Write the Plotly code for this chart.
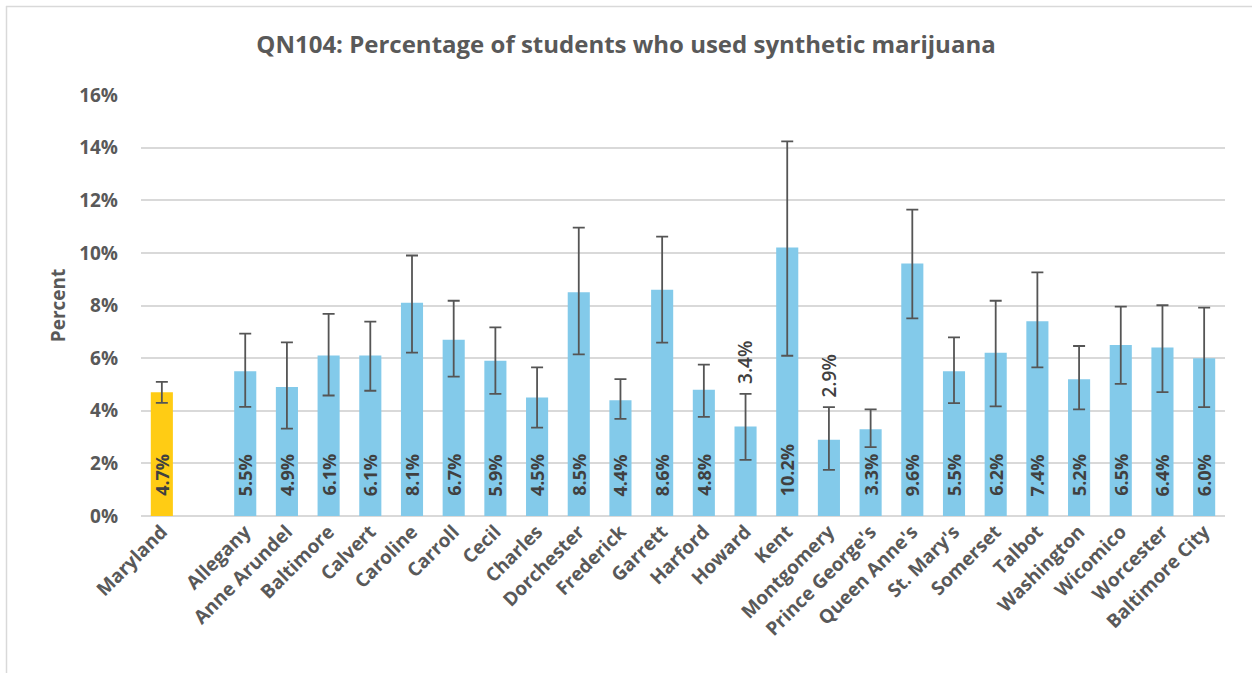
import plotly.graph_objects as go

categories = ["Maryland", " ", "Allegany", "Anne Arundel", "Baltimore", "Calvert", "Caroline",
              "Carroll", "Cecil", "Charles", "Dorchester", "Frederick", "Garrett", "Harford",
              "Howard", "Kent", "Montgomery", "Prince George's", "Queen Anne's", "St. Mary's",
              "Somerset", "Talbot", "Washington", "Wicomico", "Worcester", "Baltimore City"]
values = [4.7, None, 5.5, 4.9, 6.1, 6.1, 8.1, 6.7, 5.9, 4.5, 8.5, 4.4, 8.6, 4.8,
          3.4, 10.2, 2.9, 3.3, 9.6, 5.5, 6.2, 7.4, 5.2, 6.5, 6.4, 6.0]
upper = [5.10, None, 6.93, 6.60, 7.68, 7.39, 9.90, 8.18, 7.17, 5.65, 10.96, 5.20, 10.62, 5.75,
         4.64, 14.24, 4.14, 4.05, 11.64, 6.79, 8.18, 9.26, 6.46, 7.96, 8.01, 7.92]
lower = [4.30, None, 4.15, 3.32, 4.58, 4.76, 6.21, 5.30, 4.64, 3.36, 6.14, 3.69, 6.59, 3.77,
         2.13, 6.09, 1.75, 2.62, 7.51, 4.29, 4.17, 5.65, 4.05, 5.02, 4.71, 4.14]
outside_labels = ["Howard", "Montgomery"]
y_ticks = [0, 2, 4, 6, 8, 10, 12, 14, 16]

BLUE = "#83CAEA"
YELLOW = "#FFCC14"
TXT = "#595959"
LBL = "#404040"
FONT = "Open Sans"

colors = [YELLOW if c == "Maryland" else BLUE for c in categories]
err_plus = [None if v is None else u - v for v, u in zip(values, upper)]
err_minus = [None if v is None else v - l for v, l in zip(values, lower)]

fig = go.Figure()
fig.add_trace(go.Bar(
    x=categories, y=values, marker=dict(color=colors, line=dict(width=0)),
    width=0.53,
    error_y=dict(type="data", symmetric=False, array=err_plus, arrayminus=err_minus,
                 color="#555555", thickness=1.8, width=6),
    hoverinfo="skip",
))

for c, v, u in zip(categories, values, upper):
    if v is None:
        continue
    if c in outside_labels:
        fig.add_annotation(x=c, y=u, text=f"{v:.1f}%", textangle=-90, showarrow=False,
                           yanchor="bottom", yshift=8,
                           font=dict(family=FONT, size=19, color=LBL, weight=600))
    else:
        fig.add_annotation(x=c, y=0, text=f"<b>{v:.1f}%</b>", textangle=-90, showarrow=False,
                           yanchor="bottom", yshift=18,
                           font=dict(family=FONT, size=18, color=LBL))

L, R, T, B = 141, 27, 95, 158
W, H = 1252, 674
pw, ph = W - L - R, H - T - B
def px_x(p):
    return (p - L) / pw
def px_y(p):
    return (H - B - p) / ph

fig.add_shape(type="line", xref="paper", yref="paper", x0=px_x(6), x1=px_x(1252), y0=px_y(6.5), y1=px_y(6.5),
              line=dict(color="#D9D9D9", width=1.5))
fig.add_shape(type="line", xref="paper", yref="paper", x0=px_x(6.5), x1=px_x(6.5), y0=px_y(6), y1=px_y(673),
              line=dict(color="#D9D9D9", width=1.5))

fig.update_layout(
    width=W, height=H,
    margin=dict(l=L, r=R, t=T, b=B),
    paper_bgcolor="white", plot_bgcolor="white",
    showlegend=False,
    title=dict(text="<b>QN104: Percentage of students who used synthetic marijuana</b>",
               x=0.5, xref="container", xanchor="center", y=1 - 45 / H, yanchor="middle",
               font=dict(family=FONT, size=24, color=TXT)),
    font=dict(family=FONT, color=TXT),
    xaxis=dict(categoryorder="array", categoryarray=categories, tickangle=-45,
               tickfont=dict(family=FONT, size=19, color=TXT, weight="bold"),
               showgrid=False, showline=False, ticks="", range=[-0.5, len(categories) - 0.5]),
    yaxis=dict(range=[0, 16], tickvals=y_ticks, ticktext=[f"{t}%" for t in y_ticks],
               tickfont=dict(family=FONT, size=19, color=TXT, weight="bold"),
               gridcolor="#D9D9D9", gridwidth=1.5, zeroline=True, zerolinecolor="#D9D9D9",
               zerolinewidth=1.5, showline=False, ticks="", ticklabelstandoff=22,
               title=dict(text="<b>Percent</b>", font=dict(family=FONT, size=19, color=TXT), standoff=8)),
)

fig.write_html("out.html", config={"displayModeBar": False},
               post_script="document.body.style.margin='0';document.body.style.overflow='hidden';")
